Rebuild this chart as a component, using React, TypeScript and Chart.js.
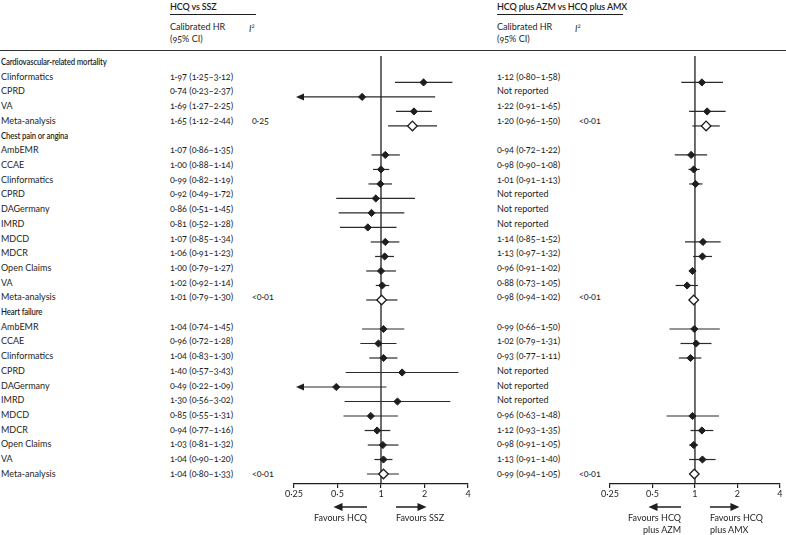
import React, { useEffect, useRef } from "react";
import { Chart, registerables } from "chart.js";
Chart.register(...registerables);

// ---------- DATA ----------
const rowLabels = [
  "Cardiovascular-related mortality", "Clinformatics", "CPRD", "VA", "Meta-analysis",
  "Chest pain or angina", "AmbEMR", "CCAE", "Clinformatics", "CPRD", "DAGermany", "IMRD", "MDCD", "MDCR", "Open Claims", "VA", "Meta-analysis",
  "Heart failure", "AmbEMR", "CCAE", "Clinformatics", "CPRD", "DAGermany", "IMRD", "MDCD", "MDCR", "Open Claims", "VA", "Meta-analysis",
];
const headerRows = [0, 5, 17];

// HCQ vs SSZ
const sszHR = [null, 1.97, 0.74, 1.69, 1.65, null, 1.07, 1.00, 0.99, 0.92, 0.86, 0.81, 1.07, 1.06, 1.00, 1.02, 1.01, null, 1.04, 0.96, 1.04, 1.40, 0.49, 1.30, 0.85, 0.94, 1.03, 1.04, 1.04];
const sszLo = [null, 1.25, 0.23, 1.27, 1.12, null, 0.86, 0.88, 0.82, 0.49, 0.51, 0.52, 0.85, 0.91, 0.79, 0.92, 0.79, null, 0.74, 0.72, 0.83, 0.57, 0.22, 0.56, 0.55, 0.77, 0.81, 0.90, 0.80];
const sszHi = [null, 3.12, 2.37, 2.25, 2.44, null, 1.35, 1.14, 1.19, 1.72, 1.45, 1.28, 1.34, 1.23, 1.27, 1.14, 1.30, null, 1.45, 1.28, 1.30, 3.43, 1.09, 3.02, 1.31, 1.16, 1.32, 1.20, 1.33];
const sszI2: Record<number, string> = { 4: "0·25", 16: "<0·01", 28: "<0·01" };

// HCQ plus AZM vs HCQ plus AMX
const azmHR = [null, 1.12, null, 1.22, 1.20, null, 0.94, 0.98, 1.01, null, null, null, 1.14, 1.13, 0.96, 0.88, 0.98, null, 0.99, 1.02, 0.93, null, null, null, 0.96, 1.12, 0.98, 1.13, 0.99];
const azmLo = [null, 0.80, null, 0.91, 0.96, null, 0.72, 0.90, 0.91, null, null, null, 0.85, 0.97, 0.91, 0.73, 0.94, null, 0.66, 0.79, 0.77, null, null, null, 0.63, 0.93, 0.91, 0.91, 0.94];
const azmHi = [null, 1.58, null, 1.65, 1.50, null, 1.22, 1.08, 1.13, null, null, null, 1.52, 1.32, 1.02, 1.05, 1.02, null, 1.50, 1.31, 1.11, null, null, null, 1.48, 1.35, 1.05, 1.40, 1.05];
const azmI2: Record<number, string> = { 4: "<0·01", 16: "<0·01", 28: "<0·01" };

const xTicks = [0.25, 0.5, 1, 2, 4];
const xTickLabels = ["0·25", "0·5", "1", "2", "4"];

// ---------- LAYOUT ----------
const FONT = "Lato, 'Noto Sans', sans-serif";
const ROW0 = 62;
const ROWH = 14.71;
const PLOT_TOP = 50;
const AXIS_Y = 484;
const CANVAS_H = 535 - PLOT_TOP;
const AXIS_H = 535 - AXIS_Y;
const yMin = (PLOT_TOP - ROW0) / ROWH;
const yMax = (AXIS_Y - ROW0) / ROWH;
const INK = "#1e1e1e";

const fmt = (v: number) => v.toFixed(2).replace(".", "·");

function arrowHead(ctx: CanvasRenderingContext2D, tipX: number, y: number, dir: number, len = 8, half = 3.5) {
  ctx.beginPath();
  ctx.moveTo(tipX, y);
  ctx.lineTo(tipX - dir * len, y - half);
  ctx.lineTo(tipX - dir * len, y + half);
  ctx.closePath();
  ctx.fill();
}

const forestPlugin = {
  id: "forest",
  beforeDatasetsDraw(chart: any, _args: any, opts: any) {
    const { ctx, chartArea, scales } = chart;
    const x = scales.x, y = scales.y;
    ctx.save();
    ctx.strokeStyle = INK;
    ctx.fillStyle = INK;
    const x1 = x.getPixelForValue(1);
    ctx.lineWidth = 1.3;
    ctx.beginPath();
    ctx.moveTo(x1, chartArea.top);
    ctx.lineTo(x1, chartArea.bottom);
    ctx.stroke();
    const lo: (number | null)[] = opts.lo, hi: (number | null)[] = opts.hi;
    lo.forEach((l, i) => {
      const h = hi[i];
      if (l == null || h == null) return;
      const py = y.getPixelForValue(i);
      const clipL = l < x.min;
      const xl = x.getPixelForValue(Math.max(l, x.min));
      const xh = x.getPixelForValue(Math.min(h, x.max));
      ctx.lineWidth = 1.2;
      ctx.strokeStyle = "#2a2a2a";
      ctx.beginPath();
      ctx.moveTo(xl + (clipL ? 5 : 0), py);
      ctx.lineTo(xh, py);
      ctx.stroke();
      if (clipL) arrowHead(ctx, xl + 2, py, -1, 8, 3.5);
    });
    ctx.restore();
  },
  afterDraw(chart: any) {
    const { ctx, chartArea, scales } = chart;
    const x = scales.x;
    const ay = chartArea.bottom + 23;
    ctx.save();
    ctx.strokeStyle = INK;
    ctx.fillStyle = INK;
    ctx.lineWidth = 1.5;
    const l0 = x.getPixelForValue(1) - 14, l1 = x.getPixelForValue(0.5) - 4;
    ctx.beginPath(); ctx.moveTo(l0, ay); ctx.lineTo(l1 + 6, ay); ctx.stroke();
    arrowHead(ctx, l1, ay, -1, 9, 4);
    const r0 = x.getPixelForValue(1) + 15, r1 = x.getPixelForValue(2) + 2;
    ctx.beginPath(); ctx.moveTo(r0, ay); ctx.lineTo(r1 - 6, ay); ctx.stroke();
    arrowHead(ctx, r1, ay, 1, 9, 4);
    ctx.restore();
  },
};

function Forest({ left, width, padL, padR, hr, lo, hi }: any) {
  const ref = useRef<HTMLCanvasElement>(null);
  useEffect(() => {
    const studyPts: any[] = [];
    const metaPts: any[] = [];
    hr.forEach((v: number | null, i: number) => {
      if (v == null) return;
      (rowLabels[i] === "Meta-analysis" ? metaPts : studyPts).push({ x: v, y: i });
    });
    const chart = new Chart(ref.current!, {
      type: "scatter",
      data: {
        datasets: [
          { data: studyPts, pointStyle: "rectRot", pointRadius: 3.6, backgroundColor: INK, borderColor: INK, borderWidth: 1 },
          { data: metaPts, pointStyle: "rectRot", pointRadius: 4.8, backgroundColor: "#ffffff", borderColor: INK, borderWidth: 1.3 },
        ],
      },
      options: {
        animation: false,
        responsive: false,
        devicePixelRatio: 1,
        events: [],
        layout: { padding: { left: padL, right: padR, top: 0, bottom: 0 } },
        plugins: { legend: { display: false }, tooltip: { enabled: false }, forest: { lo, hi } } as any,
        scales: {
          x: {
            type: "logarithmic",
            min: 0.25,
            max: 4,
            afterBuildTicks: (s: any) => { s.ticks = xTicks.map((v) => ({ value: v })); },
            afterFit: (s: any) => { s.height = AXIS_H; },
            grid: { drawOnChartArea: false, drawTicks: true, tickLength: 4, color: INK, lineWidth: 1.2 },
            border: { display: true, color: INK, width: 1.2 },
            ticks: {
              autoSkip: false,
              maxRotation: 0,
              padding: 1,
              color: INK,
              font: { family: FONT, size: 9 },
              callback: (v: any) => { const k = xTicks.indexOf(Number(v)); return k >= 0 ? xTickLabels[k] : ""; },
            },
          },
          y: { type: "linear", min: yMin, max: yMax, reverse: true, display: false },
        },
      },
      plugins: [forestPlugin as any],
    });
    return () => chart.destroy();
  }, []);
  return (
    <canvas ref={ref} width={width} height={CANVAS_H}
      style={{ position: "absolute", left, top: PLOT_TOP, width, height: CANVAS_H }} />
  );
}

function T({ x, y, children, bold, align, italic, squeeze }: any) {
  const style: any = {
    position: "absolute", top: y - 6, lineHeight: "12px", whiteSpace: "nowrap",
    fontWeight: bold ? 600 : 400, fontSize: 9, color: INK, fontFamily: FONT,
    fontVariantNumeric: "oldstyle-nums", fontStyle: italic ? "italic" : "normal",
  };
  if (bold) style.letterSpacing = "-0.15px";
  if (squeeze) { style.transform = `scaleX(${squeeze})`; style.transformOrigin = "left center"; }
  if (align === "right") { style.left = x - 200; style.width = 200; style.textAlign = "right"; }
  else style.left = x;
  return <div style={style}>{children}</div>;
}

const rowY = (i: number) => ROW0 + i * ROWH;

export default function App() {
  return (
    <div style={{ position: "fixed", left: 0, top: 0, width: 786, height: 535, background: "#fff", overflow: "hidden", fontFamily: FONT }}>
      <T x={170} y={7} bold>HCQ vs SSZ</T>
      <div style={{ position: "absolute", left: 170, top: 14, width: 86, height: 1, background: INK }} />
      <T x={170} y={27}>Calibrated HR</T>
      <T x={170} y={39}>(95% CI)</T>
      <T x={249} y={26} italic>I<sup style={{ fontSize: 6 }}>2</sup></T>
      <T x={497} y={7} bold>HCQ plus AZM vs HCQ plus AMX</T>
      <div style={{ position: "absolute", left: 497, top: 14, width: 126, height: 1, background: INK }} />
      <T x={497} y={27}>Calibrated HR</T>
      <T x={497} y={39}>(95% CI)</T>
      <T x={575} y={26} italic>I<sup style={{ fontSize: 6 }}>2</sup></T>
      <div style={{ position: "absolute", left: 0, top: 49.5, width: 786, height: 1.3, background: "#333" }} />

      {rowLabels.map((lab, i) => {
        const hdr = headerRows.includes(i);
        return <T key={"l" + i} x={1} y={rowY(i)} bold={hdr} squeeze={hdr ? 0.86 : undefined}>{lab}</T>;
      })}
      {sszHR.map((v, i) => v == null ? null : (
        <T key={"s" + i} x={170} y={rowY(i)}>{`${fmt(v)} (${fmt(sszLo[i]!)}–${fmt(sszHi[i]!)})`}</T>
      ))}
      {Object.keys(sszI2).map((k) => <T key={"si" + k} x={252} y={rowY(+k)}>{sszI2[+k]}</T>)}
      {rowLabels.map((_, i) => headerRows.includes(i) ? null : (
        <T key={"a" + i} x={497} y={rowY(i)}>{azmHR[i] == null ? "Not reported" : `${fmt(azmHR[i]!)} (${fmt(azmLo[i]!)}–${fmt(azmHi[i]!)})`}</T>
      ))}
      {Object.keys(azmI2).map((k) => <T key={"ai" + k} x={579} y={rowY(+k)}>{azmI2[+k]}</T>)}

      <Forest left={280} width={200} padL={14} padR={12} hr={sszHR} lo={sszLo} hi={sszHi} />
      <Forest left={596} width={190} padL={14} padR={3} hr={azmHR} lo={azmLo} hi={azmHi} />

      <T x={367} y={518} align="right">Favours HCQ</T>
      <T x={396} y={518}>Favours SSZ</T>
      <T x={681} y={518} align="right">Favours HCQ</T>
      <T x={681} y={530} align="right">plus AZM</T>
      <T x={710} y={518}>Favours HCQ</T>
      <T x={710} y={530}>plus AMX</T>
    </div>
  );
}
